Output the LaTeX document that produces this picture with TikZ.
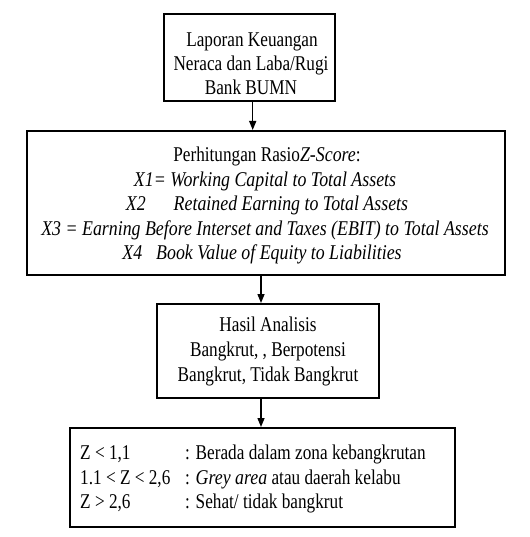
\documentclass[tikz,border=0pt]{standalone}
\usepackage{fontspec}
\setmainfont{Liberation Serif}[UprightFeatures={FakeStretch=0.82},ItalicFeatures={FakeStretch=0.85}]
\usetikzlibrary{arrows.meta}
\begin{document}
\begin{tikzpicture}[x=1pt,y=-1pt]
\tikzset{
  boxshape/.style={draw, line width=2pt, inner sep=0pt},
  ln/.style={anchor=base, inner sep=0pt, font=\fontsize{21}{24.4}\selectfont},
  lnl/.style={ln, anchor=base west},
  arr/.style={line width=1.4pt, -{Triangle[length=9pt,width=7pt]}},
}
\useasboundingbox (0,0) rectangle (529,537);
% boxes
\node[boxshape, minimum width=171pt, minimum height=87pt] (b1) at (249.5,57.5) {};
\node[boxshape, minimum width=478pt, minimum height=144pt] (b2) at (266,203) {};
\node[boxshape, minimum width=222pt, minimum height=94pt] (b3) at (268,351) {};
\node[boxshape, minimum width=385pt, minimum height=99pt] (b4) at (262.5,477.5) {};
% box 1 text
\node[ln] (t11) at (252,46.7) {Laporan Keuangan};
\node[ln] (t12) at (251,71) {Neraca dan Laba/Rugi};
\node[ln] (t13) at (251,95) {Bank BUMN};
% box 2 text
\node[ln] (t21) at (267,162) {Perhitungan Rasio\textit{Z-Score}:};
\node[ln] (t22) at (265,186.5) {\textit{X1= Working Capital to Total Assets}};
\node[ln] (t23) at (267,211) {\textit{X2\hspace{28pt}Retained Earning to Total Assets}};
\node[ln] (t24) at (265,235) {\textit{X3 = Earning Before Interset and Taxes (EBIT) to Total Assets}};
\node[ln] (t25) at (262,259.5) {\textit{X4\hspace{14pt}Book Value of Equity to Liabilities}};
% box 3 text
\node[ln] (t31) at (268,331.7) {Hasil Analisis};
\node[ln] (t32) at (268,356.5) {Bangkrut, , Berpotensi};
\node[ln] (t33) at (268,381) {Bangkrut, Tidak Bangkrut};
% box 4 text
\node[lnl] (t41a) at (80,459.5) {Z < 1,1};
\node[lnl] (t41b) at (185,459.5) {: Berada dalam zona kebangkrutan};
\node[lnl] (t42a) at (80,484) {1.1 < Z < 2,6};
\node[lnl] (t42b) at (185,484) {: \textit{Grey area} atau daerah kelabu};
\node[lnl] (t43a) at (80,508) {Z > 2,6};
\node[lnl] (t43b) at (185,508) {: Sehat/ tidak bangkrut};
% connectors
\coordinate (c1) at (252.7,0);
\coordinate (c2) at (261,0);
\draw[arr] (b1.south -| c1) -- (b2.north -| c1);
\draw[arr] (b2.south -| c2) -- (b3.north -| c2);
\draw[arr] (b3.south -| c2) -- (b4.north -| c2);
\end{tikzpicture}
\end{document}
